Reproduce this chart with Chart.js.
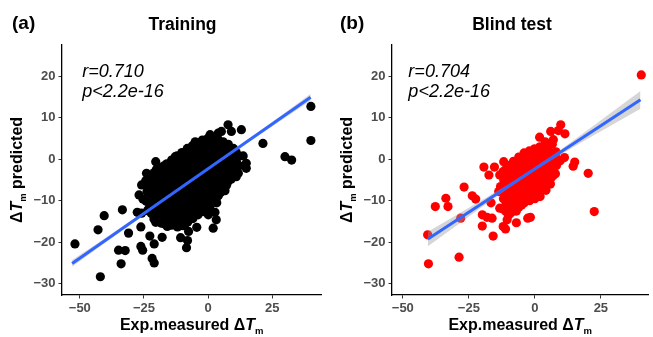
<!DOCTYPE html>
<html><head><meta charset="utf-8">
<script src="https://cdn.jsdelivr.net/npm/chart.js@4.4.1/dist/chart.umd.min.js"></script>
<style>
html,body{margin:0;padding:0;background:#fff;}
#wrap{position:relative;width:653px;height:337px;overflow:hidden;background:#fff;}
canvas{position:absolute;top:0;}
</style></head><body>
<div id="wrap">
<canvas id="cA" width="326" height="337" style="left:0px"></canvas>
<canvas id="cB" width="327" height="337" style="left:326px"></canvas>
</div>
<script>
const FF = '"Liberation Sans", Arial, Helvetica, sans-serif';

const xTickValues = [-50, -25, 0, 25];
const yTickValues = [-30, -20, -10, 0, 10, 20];

// Training set: measured vs predicted ΔTm
const trainPoints = [
  [-24.3,-5.2],[-23.8,-7.8],[-24.1,-10.1],[-23.6,-12.4],
  [-23.0,-4.6],[-22.9,-6.9],[-23.1,-9.3],[-22.8,-11.6],
  [-22.2,-4.0],[-21.8,-6.3],[-22.4,-8.5],[-21.9,-10.8],[-22.1,-13.1],
  [-21.0,-3.2],[-20.9,-5.5],[-21.1,-7.7],[-20.8,-10.0],[-21.0,-12.3],[-21.1,-14.4],
  [-20.1,-2.4],[-19.7,-4.6],[-20.3,-6.9],[-19.8,-9.2],[-20.2,-11.4],[-19.9,-13.7],[-20.4,-15.2],
  [-19.0,-3.2],[-18.9,-5.4],[-19.1,-7.7],[-19.0,-9.9],[-18.8,-12.2],[-19.1,-14.5],
  [-18.2,-2.0],[-17.8,-4.3],[-18.3,-6.5],[-17.9,-8.8],[-18.1,-11.0],[-17.7,-13.3],[-18.2,-15.4],
  [-17.0,-2.2],[-16.9,-4.5],[-17.1,-6.8],[-17.0,-9.0],[-16.8,-11.3],[-17.1,-13.6],[-16.9,-15.6],
  [-16.1,-1.1],[-15.8,-3.4],[-16.3,-5.6],[-15.9,-7.9],[-16.2,-10.2],[-15.7,-12.4],[-16.1,-14.7],[-15.9,-16.2],
  [-15.0,-1.3],[-14.9,-3.6],[-15.1,-5.9],[-15.0,-8.1],[-14.8,-10.4],[-15.1,-12.7],[-14.9,-14.9],
  [-14.2,-0.2],[-13.8,-2.5],[-14.1,-4.7],[-13.9,-7.0],[-14.3,-9.3],[-13.7,-11.5],[-14.0,-13.8],[-14.2,-15.9],
  [-13.0,-0.4],[-12.9,-2.6],[-13.1,-4.9],[-13.0,-7.2],[-12.8,-9.4],[-13.1,-11.7],[-12.9,-13.9],[-13.0,-15.8],
  [-12.1,0.8],[-11.8,-1.5],[-12.2,-3.7],[-11.9,-6.0],[-12.3,-8.3],[-11.7,-10.5],[-12.0,-12.8],[-12.2,-15.0],[-11.9,-16.3],
  [-11.0,0.5],[-10.9,-1.8],[-11.1,-4.0],[-11.0,-6.3],[-10.8,-8.6],[-11.1,-10.8],[-10.9,-13.1],[-11.0,-15.2],
  [-10.2,1.6],[-9.8,-0.6],[-10.1,-2.9],[-9.9,-5.1],[-10.3,-7.4],[-9.7,-9.7],[-10.0,-11.9],[-10.2,-14.2],[-9.8,-16.0],
  [-9.0,1.5],[-8.9,-0.8],[-9.1,-3.1],[-9.0,-5.3],[-8.8,-7.6],[-9.1,-9.9],[-8.9,-12.1],[-9.0,-14.4],[-9.1,-15.8],
  [-8.1,2.6],[-7.8,0.3],[-8.2,-1.9],[-7.9,-4.2],[-8.3,-6.5],[-7.7,-8.7],[-8.0,-11.0],[-8.1,-13.3],[-7.9,-15.1],
  [-7.0,2.1],[-6.9,-0.2],[-7.1,-2.5],[-7.0,-4.7],[-6.8,-7.0],[-7.1,-9.3],[-6.9,-11.5],[-7.0,-13.8],
  [-6.2,3.2],[-5.8,1.0],[-6.1,-1.3],[-5.9,-3.6],[-6.3,-5.8],[-5.7,-8.1],[-6.0,-10.4],[-6.2,-12.6],[-5.9,-14.3],
  [-5.0,2.7],[-4.9,0.5],[-5.1,-1.8],[-5.0,-4.1],[-4.8,-6.3],[-5.1,-8.6],[-4.9,-10.9],[-5.0,-13.0],
  [-4.1,3.9],[-3.8,1.6],[-4.2,-0.6],[-3.9,-2.9],[-4.3,-5.2],[-3.7,-7.4],[-4.0,-9.7],[-4.1,-12.0],[-3.9,-13.4],
  [-3.0,3.4],[-2.9,1.2],[-3.1,-1.1],[-3.0,-3.4],[-2.8,-5.6],[-3.1,-7.9],[-2.9,-10.2],[-3.0,-12.2],
  [-2.2,4.6],[-1.8,2.3],[-2.1,0.1],[-1.9,-2.2],[-2.3,-4.5],[-1.7,-6.7],[-2.0,-9.0],[-2.2,-11.3],[-1.9,-12.6],
  [-1.0,3.9],[-0.9,1.7],[-1.1,-0.6],[-1.0,-2.9],[-0.8,-5.2],[-1.1,-7.4],[-0.9,-9.7],[-1.0,-11.6],
  [-0.1,5.0],[0.2,2.8],[-0.2,0.5],[0.1,-1.8],[-0.3,-4.0],[0.3,-6.3],[0.0,-8.6],[-0.1,-10.8],[0.1,-12.0],
  [1.0,4.2],[1.1,1.9],[0.9,-0.4],[1.0,-2.7],[1.2,-4.9],[0.9,-7.2],[1.1,-9.5],[1.0,-11.0],
  [1.9,5.1],[2.2,2.9],[1.8,0.6],[2.1,-1.6],[1.7,-3.9],[2.3,-6.2],[2.0,-8.4],[1.9,-10.3],
  [3.0,3.8],[3.1,1.5],[2.9,-0.8],[3.0,-3.0],[3.2,-5.3],[2.9,-7.6],[3.1,-9.5],
  [3.9,4.8],[4.2,2.5],[3.8,0.3],[4.1,-2.0],[3.7,-4.3],[4.3,-6.5],[4.0,-8.8],
  [5.0,3.4],[5.1,1.1],[4.9,-1.2],[5.0,-3.5],[5.2,-5.7],[4.9,-8.0],
  [5.9,4.2],[6.2,2.0],[5.8,-0.3],[6.1,-2.5],[5.7,-4.8],[6.3,-7.1],
  [7.0,2.8],[7.1,0.6],[6.9,-1.7],[7.0,-4.0],[7.2,-6.3],
  [7.9,3.6],[8.2,1.3],[7.8,-0.9],[8.1,-3.2],[7.7,-5.5],
  [9.0,2.1],[9.1,-0.2],[8.9,-2.5],[9.0,-4.8],
  [9.9,2.6],[10.2,0.4],[9.8,-1.9],[10.1,-4.1],
  [11.0,1.6],[11.1,-0.6],[10.9,-2.8],
  [11.9,0.8],[12.2,-1.6],[11.8,-3.4],
  [-51.9,-20.4],[-42.0,-28.3],[-42.9,-17.0],[-40.5,-13.6],[-33.4,-12.2],[-34.9,-21.9],
  [-32.3,-22.0],[-33.9,-25.2],[-31.0,-17.8],[-26.2,-16.3],[-26.2,-21.0],[-25.5,-21.9],
  [-25.9,-13.0],[-27.6,-12.8],[-23.3,-12.2],[-25.9,-6.2],[-24.0,-3.4],[-26.9,-8.6],[-25.4,-9.6],
  [-22.7,-18.5],[-21.0,-20.4],[-17.9,-18.8],[-21.8,-23.9],[-21.0,-25.0],
  [-20.4,-0.6],[-17.2,-1.6],[-12.8,0.6],[-5.0,4.2],[0.8,5.9],[5.2,6.7],[9.1,6.7],[7.8,8.3],
  [13.0,7.1],[4.0,6.3],[14.9,-1.0],[14.9,-2.2],[11.0,-4.2],[13.7,0.8],[21.4,3.8],[30.0,0.6],
  [32.6,-0.2],[40.1,12.7],[40.1,4.5],[0.1,-13.4],[3.2,-14.6],[2.0,-16.6],[-7.6,-17.4],
  [-10.7,-18.9],[-8.0,-19.6],[-8.4,-21.3],[-4.4,-16.4],[6.6,-7.6],[3.4,-10.5],[2.7,-12.8]
];

// Blind test set
const blindPoints = [
  [-12.1,-3.0],[-11.8,-5.0],[-12.2,-7.5],[-11.9,-9.5],[-12.0,-12.0],
  [-11.0,-2.5],[-10.9,-4.5],[-11.1,-6.5],[-11.0,-8.5],[-10.9,-10.5],[-11.1,-12.5],
  [-10.1,-1.5],[-9.8,-3.5],[-10.2,-5.5],[-9.9,-7.5],[-10.1,-9.5],[-9.8,-11.5],[-10.0,-13.5],
  [-9.0,-1.5],[-8.9,-3.5],[-9.1,-5.5],[-9.0,-7.5],[-8.9,-9.5],[-9.1,-11.5],
  [-8.1,-0.5],[-7.8,-2.5],[-8.2,-4.5],[-7.9,-6.5],[-8.1,-8.5],[-7.8,-10.5],[-8.0,-12.5],
  [-7.0,-0.5],[-6.9,-2.5],[-7.1,-4.5],[-7.0,-6.5],[-6.9,-8.5],[-7.1,-10.5],[-7.0,-12.5],
  [-6.1,0.5],[-5.8,-1.5],[-6.2,-3.5],[-5.9,-5.5],[-6.1,-7.5],[-5.8,-9.5],[-6.0,-11.5],
  [-5.0,0.5],[-4.9,-1.5],[-5.1,-3.5],[-5.0,-5.5],[-4.9,-7.5],[-5.1,-9.5],[-5.0,-11.0],
  [-4.1,1.5],[-3.8,-0.5],[-4.2,-2.5],[-3.9,-4.5],[-4.1,-6.5],[-3.8,-8.5],[-4.0,-10.5],
  [-3.0,1.0],[-2.9,-1.0],[-3.1,-3.0],[-3.0,-5.0],[-2.9,-7.0],[-3.1,-9.0],
  [-2.1,2.0],[-1.8,0.0],[-2.2,-2.0],[-1.9,-4.0],[-2.1,-6.0],[-1.8,-8.0],[-2.0,-10.0],
  [-1.0,1.5],[-0.9,-0.5],[-1.1,-2.5],[-1.0,-4.5],[-0.9,-6.5],[-1.1,-8.5],
  [-0.1,2.5],[0.2,0.5],[-0.2,-1.5],[0.1,-3.5],[-0.1,-5.5],[0.2,-7.5],[0.0,-9.5],
  [1.0,2.0],[1.1,0.0],[0.9,-2.0],[1.0,-4.0],[1.1,-6.0],[0.9,-8.0],
  [1.9,3.0],[2.2,1.0],[1.8,-1.0],[2.1,-3.0],[1.9,-5.0],[2.2,-7.0],[2.0,-9.0],
  [3.0,2.0],[3.1,0.0],[2.9,-2.0],[3.0,-4.0],[3.1,-6.0],
  [3.9,2.5],[4.2,0.5],[3.8,-1.5],[4.1,-3.5],[3.9,-5.5],[4.2,-7.5],
  [5.0,1.0],[5.1,-1.0],[4.9,-3.0],[5.0,-5.0],
  [5.9,1.5],[6.2,-0.5],[5.8,-2.5],[6.1,-4.5],[5.9,-6.0],
  [7.0,0.0],[7.1,-2.0],[6.9,-4.0],
  [7.9,0.5],[8.2,-1.5],[7.8,-3.5],
  [40.3,20.3],[9.8,8.3],[6.0,6.7],[11.4,6.1],[8.9,6.9],[1.8,5.3],[3.9,4.2],[7.0,4.7],
  [5.0,2.8],[8.0,1.8],[9.6,-0.4],[6.6,3.6],[11.2,0.4],[15.1,-0.7],[14.5,-1.7],[20.2,-3.4],
  [22.5,-12.6],[-1.7,-14.0],[-2.7,-14.2],[-7.0,-15.3],[-19.3,-1.9],[-15.3,-1.9],[-11.8,-0.6],
  [-17.4,-3.8],[-13.3,-3.8],[-26.8,-6.7],[-23.7,-8.8],[-22.4,-9.6],[-33.7,-9.4],[-37.7,-11.4],
  [-32.9,-11.4],[-28.1,-14.2],[-40.6,-18.2],[-40.3,-25.2],[-28.7,-23.6],[-19.9,-13.4],
  [-18.1,-14.0],[-16.2,-14.2],[-19.9,-16.1],[-15.8,-18.5],[-16.6,-10.5],[-10.5,-14.6],
  [-12.0,-16.2],[-11.1,-16.8],[-13.7,-7.8],[-13.0,-6.6],[-13.3,-11.8],[-7.4,-11.8],[-9.3,-13.0]
];

// Fitted regression lines
const trainFitX = [-53, 40];
const trainFitY = [-25.1, 14.9];
const blindFitX = [-40.5, 40];
const blindFitY = [-19.2, 14.3];

// Confidence bands
const trainBandX    = [-53, -40, -25, -10, 0, 15, 30, 40];
const trainBandLow  = [-25.9, -20.05, -13.4, -6.8, -2.5, 3.8, 10.0, 14.05];
const trainBandHigh = [-24.3, -18.95, -12.7, -6.4, -2.1, 4.5, 11.2, 15.75];
const blindBandX    = [-40.5, -30, -20, -10, 0, 10, 20, 30, 40];
const blindBandLow  = [-20.95, -16.13, -11.52, -7.01, -2.75, 1.21, 4.92, 8.53, 12.15];
const blindBandHigh = [-17.45, -13.53, -9.82, -6.01, -1.95, 2.41, 7.02, 11.73, 16.45];

function xy(xs, ys) { return xs.map((x, i) => ({ x: x, y: ys[i] })); }

function drawRich(ctx, parts, x, y) {
  let total = 0;
  parts.forEach(p => { ctx.font = p.f; p.w = ctx.measureText(p.t).width; total += p.w; });
  let cx = x - total / 2;
  ctx.textAlign = 'left';
  ctx.textBaseline = 'alphabetic';
  parts.forEach(p => { ctx.font = p.f; ctx.fillText(p.t, cx, y + (p.dy || 0)); cx += p.w; });
}

function makeChart(id, P) {
  const decor = {
    id: 'decor',
    afterDraw(chart) {
      const ctx = chart.ctx, ca = chart.chartArea;
      const xs = chart.scales.x, ys = chart.scales.y;
      ctx.save();
      ctx.fillStyle = '#000';
      ctx.textAlign = 'left'; ctx.textBaseline = 'alphabetic';
      ctx.font = 'bold 19px ' + FF;
      ctx.fillText(P.label, P.labelX, 29);
      ctx.textAlign = 'center';
      ctx.font = 'bold 17.5px ' + FF;
      ctx.fillText(P.title, P.titleX, 30);
      ctx.textAlign = 'left';
      ctx.font = 'italic 18px ' + FF;
      ctx.fillText(P.rText, xs.getPixelForValue(P.annX), ys.getPixelForValue(P.annY1));
      ctx.fillText(P.pText, xs.getPixelForValue(P.annX), ys.getPixelForValue(P.annY2));
      const big = 'bold 16px ' + FF;
      drawRich(ctx, [
        { t: 'Exp.measured ', f: big },
        { t: 'Δ', f: big },
        { t: 'T', f: 'italic bold 16px ' + FF },
        { t: 'm', f: 'bold 9.5px ' + FF, dy: 4 }
      ], (ca.left + ca.right) / 2, 330);
      ctx.translate(ca.left - 40, (ca.top + ca.bottom) / 2);
      ctx.rotate(-Math.PI / 2);
      drawRich(ctx, [
        { t: 'Δ', f: big },
        { t: 'T', f: 'italic bold 16px ' + FF },
        { t: 'm', f: 'bold 9.5px ' + FF, dy: 4 },
        { t: ' predicted', f: big }
      ], 0, 0);
      ctx.restore();
    }
  };
  const tickFont = { family: FF, size: 13, weight: 'bold' };
  const minus = v => String(v).replace('-', '\u2212');
  return new Chart(document.getElementById(id), {
    type: 'scatter',
    data: {
      datasets: [
        { type: 'scatter', data: P.points.map(p => ({ x: p[0], y: p[1] })), backgroundColor: P.color,
          borderWidth: 0, pointRadius: 4.6, pointHoverRadius: 4.6, order: 3 },
        { type: 'line', data: xy(P.bandX, P.bandLow), borderWidth: 0, borderColor: 'rgba(0,0,0,0)',
          pointRadius: 0, fill: false, order: 2 },
        { type: 'line', data: xy(P.bandX, P.bandHigh), borderWidth: 0, borderColor: 'rgba(0,0,0,0)',
          pointRadius: 0, fill: '-1', backgroundColor: 'rgba(153,153,153,0.4)', order: 2 },
        { type: 'line', data: xy(P.fitX, P.fitY), borderColor: '#3366FF', borderWidth: 3,
          pointRadius: 0, fill: false, order: 1 }
      ]
    },
    options: {
      responsive: false, animation: false, events: [],
      devicePixelRatio: 1,
      layout: { padding: { top: 45, right: P.padRight, bottom: 0, left: 0 } },
      plugins: { legend: { display: false }, tooltip: { enabled: false }, title: { display: false } },
      scales: {
        x: {
          type: 'linear', min: P.xMin, max: P.xMax,
          afterBuildTicks: s => { s.ticks = xTickValues.map(v => ({ value: v })); },
          afterFit: s => { s.height = 42; },
          grid: { display: true, drawOnChartArea: false, drawTicks: true, tickLength: 3.5, color: '#333333' },
          border: { display: true, color: '#000', width: 1.3 },
          ticks: { font: tickFont, color: '#4D4D4D', padding: 2, maxRotation: 0, callback: minus }
        },
        y: {
          type: 'linear', min: -32.7, max: 27.5,
          afterBuildTicks: s => { s.ticks = yTickValues.map(v => ({ value: v })); },
          afterFit: s => { s.width = P.axisW; },
          grid: { display: true, drawOnChartArea: false, drawTicks: true, tickLength: 3.5, color: '#333333' },
          border: { display: true, color: '#000', width: 1.3 },
          ticks: { font: tickFont, color: '#4D4D4D', padding: 3, callback: minus }
        }
      }
    },
    plugins: [decor]
  });
}

makeChart('cA', {
  label: '(a)', labelX: 12, title: 'Training', titleX: 182.5,
  rText: 'r=0.710', pText: 'p<2.2e-16', annX: -49.1, annY1: 19.9, annY2: 15.0,
  points: trainPoints, color: '#000000',
  fitX: trainFitX, fitY: trainFitY, bandX: trainBandX, bandLow: trainBandLow, bandHigh: trainBandHigh,
  xMin: -56.95, xMax: 44.2, axisW: 62, padRight: 2
});
makeChart('cB', {
  label: '(b)', labelX: 14, title: 'Blind test', titleX: 186,
  rText: 'r=0.704', pText: 'p<2.2e-16', annX: -47.9, annY1: 19.9, annY2: 15.0,
  points: blindPoints, color: '#FF0000',
  fitX: blindFitX, fitY: blindFitY, bandX: blindBandX, bandLow: blindBandLow, bandHigh: blindBandHigh,
  xMin: -54.1, xMax: 43.0, axisW: 66, padRight: 3
});
</script>
</body></html>
